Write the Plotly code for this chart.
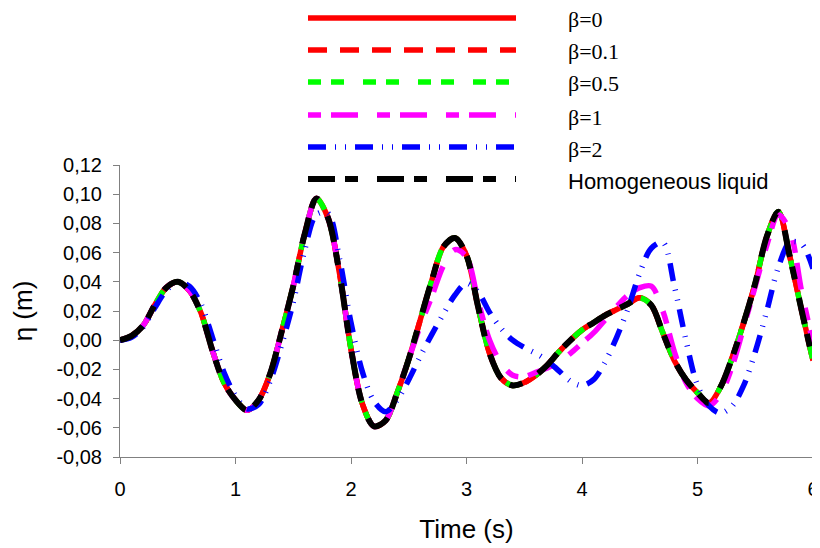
import plotly.graph_objects as go

# ---------------- data ----------------
time_s = [0.0, 0.1, 0.2, 0.3, 0.4, 0.5, 0.6, 0.7, 0.8, 0.9,
          1.0, 1.1, 1.2, 1.3, 1.4, 1.5, 1.6, 1.7, 1.8, 1.9,
          2.0, 2.1, 2.2, 2.3, 2.4, 2.5, 2.6, 2.7, 2.8, 2.9,
          3.0, 3.1, 3.2, 3.3, 3.4, 3.5, 3.6, 3.7, 3.8, 3.9,
          4.0, 4.1, 4.2, 4.3, 4.4, 4.5, 4.6, 4.7, 4.8, 4.9,
          5.0, 5.1, 5.2, 5.3, 5.4, 5.5, 5.6, 5.7, 5.8, 5.9, 6.0]

eta_homogeneous = [0.000, 0.003, 0.010, 0.024, 0.036, 0.040, 0.034, 0.019, -0.007, -0.029,
                   -0.041, -0.048, -0.041, -0.023, 0.006, 0.037, 0.073, 0.097, 0.084, 0.046,
                   -0.006, -0.044, -0.059, -0.055, -0.036, -0.013, 0.014, 0.041, 0.064, 0.070,
                   0.058, 0.023, -0.009, -0.026, -0.031, -0.029, -0.024, -0.017, -0.008, 0.000,
                   0.007, 0.012, 0.017, 0.021, 0.025, 0.029, 0.024, 0.005, -0.014, -0.027,
                   -0.036, -0.043, -0.032, -0.012, 0.012, 0.039, 0.071, 0.088, 0.057, 0.021, -0.014]

eta_beta_0 = [0.000, 0.003, 0.010, 0.024, 0.036, 0.040, 0.034, 0.019, -0.007, -0.029,
              -0.041, -0.048, -0.041, -0.023, 0.006, 0.037, 0.073, 0.097, 0.084, 0.046,
              -0.006, -0.044, -0.059, -0.055, -0.036, -0.013, 0.014, 0.041, 0.064, 0.070,
              0.058, 0.023, -0.009, -0.026, -0.031, -0.029, -0.024, -0.017, -0.008, 0.000,
              0.007, 0.012, 0.017, 0.021, 0.025, 0.029, 0.024, 0.005, -0.014, -0.027,
              -0.036, -0.043, -0.032, -0.012, 0.012, 0.039, 0.071, 0.088, 0.057, 0.021, -0.014]

eta_beta_01 = [0.000, 0.003, 0.010, 0.024, 0.036, 0.040, 0.034, 0.019, -0.007, -0.029,
               -0.041, -0.048, -0.041, -0.023, 0.006, 0.037, 0.073, 0.097, 0.084, 0.046,
               -0.006, -0.044, -0.059, -0.055, -0.036, -0.013, 0.014, 0.041, 0.064, 0.070,
               0.058, 0.023, -0.009, -0.026, -0.031, -0.029, -0.024, -0.017, -0.008, 0.000,
               0.007, 0.012, 0.017, 0.021, 0.025, 0.029, 0.024, 0.005, -0.014, -0.027,
               -0.036, -0.043, -0.032, -0.012, 0.012, 0.039, 0.071, 0.088, 0.057, 0.021, -0.014]

eta_beta_05 = [0.000, 0.003, 0.010, 0.024, 0.036, 0.040, 0.034, 0.019, -0.007, -0.029,
               -0.041, -0.048, -0.041, -0.023, 0.006, 0.037, 0.073, 0.097, 0.084, 0.046,
               -0.006, -0.044, -0.059, -0.055, -0.036, -0.013, 0.014, 0.041, 0.064, 0.070,
               0.058, 0.023, -0.009, -0.026, -0.031, -0.029, -0.024, -0.017, -0.008, 0.000,
               0.007, 0.012, 0.017, 0.021, 0.025, 0.029, 0.024, 0.005, -0.014, -0.027,
               -0.036, -0.043, -0.032, -0.012, 0.012, 0.039, 0.071, 0.088, 0.057, 0.021, -0.014]

eta_beta_1 = [0.000, 0.003, 0.010, 0.024, 0.036, 0.040, 0.034, 0.019, -0.007, -0.029,
              -0.041, -0.048, -0.041, -0.023, 0.006, 0.037, 0.073, 0.097, 0.084, 0.046,
              -0.006, -0.044, -0.059, -0.055, -0.036, -0.013, 0.010, 0.030, 0.051, 0.062,
              0.057, 0.027, 0.000, -0.016, -0.024, -0.025, -0.022, -0.019, -0.015, -0.009,
              -0.002, 0.005, 0.014, 0.023, 0.031, 0.036, 0.037, 0.020, -0.008, -0.029,
              -0.040, -0.045, -0.037, -0.018, 0.009, 0.037, 0.065, 0.086, 0.075, 0.034, -0.002]

eta_beta_2 = [0.000, 0.002, 0.009, 0.022, 0.034, 0.040, 0.037, 0.025, 0.002, -0.022,
              -0.038, -0.047, -0.044, -0.028, -0.003, 0.026, 0.062, 0.086, 0.087, 0.056,
              0.012, -0.022, -0.042, -0.049, -0.041, -0.027, -0.011, 0.004, 0.018, 0.031,
              0.039, 0.033, 0.019, 0.008, 0.000, -0.005, -0.009, -0.014, -0.021, -0.028,
              -0.031, -0.027, -0.015, 0.002, 0.022, 0.046, 0.063, 0.067, 0.037, 0.000,
              -0.031, -0.045, -0.050, -0.045, -0.031, -0.008, 0.020, 0.050, 0.067, 0.066, 0.049]

series_names = ["β=0", "β=0.1", "β=0.5", "β=1", "β=2", "Homogeneous liquid"]
series_values = [eta_beta_0, eta_beta_01, eta_beta_05, eta_beta_1, eta_beta_2, eta_homogeneous]

y_tick_values = [-0.08, -0.06, -0.04, -0.02, 0.0, 0.02, 0.04, 0.06, 0.08, 0.10, 0.12]
y_tick_labels = ["-0,08", "-0,06", "-0,04", "-0,02", "0,00", "0,02", "0,04", "0,06", "0,08", "0,10", "0,12"]
x_tick_values = [0, 1, 2, 3, 4, 5, 6]
x_tick_labels = ["0", "1", "2", "3", "4", "5", "6"]

# ---------------- styles ----------------
colors = ["#ff0000", "#ff0000", "#00ff00", "#ff00ff", "#0000ff", "#000000"]
dashes = ["solid", "19px,13px", "13px,10px,13px,19px", "13px,10px,27px,19px",
          "18px,9px,1px,9px,1px,9px", "27px,10px,13px,19px"]
widths = [5.5, 5.5, 5.5, 5.5, 5.5, 6]
legend_fonts = ["Liberation Serif", "Liberation Serif", "Liberation Serif",
                "Liberation Serif", "Liberation Serif", "Liberation Sans"]

fig = go.Figure()
for name, vals, c, d, w in zip(series_names, series_values, colors, dashes, widths):
    fig.add_trace(go.Scatter(x=time_s, y=vals, mode="lines", name=name,
                             line=dict(color=c, dash=d, width=w, shape="spline", smoothing=0.9),
                             showlegend=False))

# page body has an 8 px margin, so figure pixels = page pixels - 8
OFF = 8
W, H = 820 - OFF, 548 - OFF
L, T = 120 - OFF, 165 - OFF
R = W - (813 - OFF)
B = H - (457 - OFF)
pw, ph = W - L - R, H - T - B

def px_to_paper_x(px):
    return (px - OFF - L) / pw

def px_to_paper_y(py):
    return (H + OFF - B - py) / ph

# manual legend (lines + text) above the plot, positions in page pixels
row_y = [18, 50, 82, 115, 147, 179]
shapes = []
annotations = []
for i, name in enumerate(series_names):
    yy = px_to_paper_y(row_y[i])
    shapes.append(dict(type="line", xref="paper", yref="paper",
                       x0=px_to_paper_x(308), x1=px_to_paper_x(516), y0=yy, y1=yy,
                       line=dict(color=colors[i], width=widths[i], dash=dashes[i])))
    annotations.append(dict(xref="paper", yref="paper", x=px_to_paper_x(566),
                            y=px_to_paper_y(row_y[i] + 2), xanchor="left", yanchor="middle",
                            text=name, showarrow=False,
                            font=dict(family=legend_fonts[i], size=22, color="black")))

fig.update_layout(
    width=W, height=H,
    margin=dict(l=L, r=R, t=T, b=B, autoexpand=False),
    paper_bgcolor="white", plot_bgcolor="white",
    font=dict(family="Liberation Sans", color="black"),
    shapes=shapes, annotations=annotations,
    showlegend=False,
)
fig.update_xaxes(range=[0, 6], showgrid=False, zeroline=False, showline=True,
                 linecolor="#808080", linewidth=1, ticks="outside", ticklen=6,
                 tickcolor="#808080", tickvals=x_tick_values, ticktext=x_tick_labels,
                 ticklabelstandoff=8, ticklabeloverflow="allow",
                 tickfont=dict(size=20, family="Liberation Sans"),
                 title=dict(text="Time (s)", font=dict(size=26, family="Liberation Sans"), standoff=20))
fig.update_yaxes(range=[-0.08, 0.12], showgrid=False, zeroline=False, showline=True,
                 linecolor="#808080", linewidth=1, ticks="outside", ticklen=6,
                 tickcolor="#808080", tickvals=y_tick_values, ticktext=y_tick_labels,
                 ticklabelstandoff=7,
                 tickfont=dict(size=20, family="Liberation Sans"),
                 title=dict(text="η (m)", font=dict(size=26, family="Liberation Sans"), standoff=16))

fig.write_html("out.html")
